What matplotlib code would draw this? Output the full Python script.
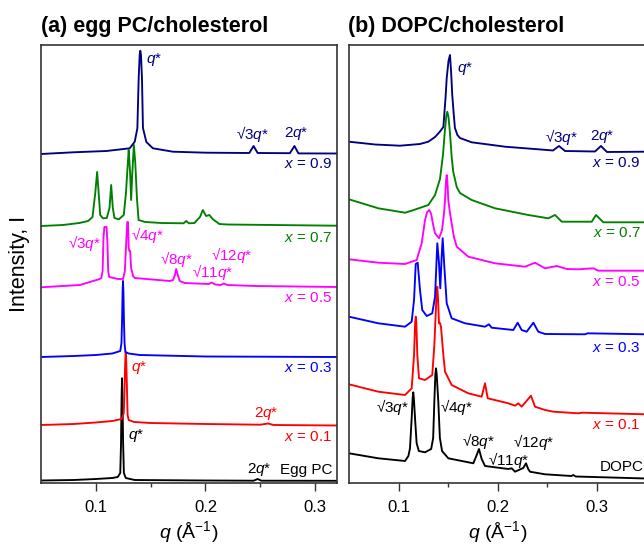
import numpy as np
import matplotlib
matplotlib.use("Agg")
import matplotlib.pyplot as plt

plt.rcParams['font.family'] = ['Liberation Sans', 'DejaVu Sans']
plt.rcParams['mathtext.fontset'] = 'custom'
plt.rcParams['mathtext.rm'] = 'Liberation Sans'
plt.rcParams['mathtext.it'] = 'Liberation Sans:italic'
plt.rcParams['mathtext.bf'] = 'Liberation Sans:bold'

# ---------------- (a) egg PC / cholesterol (intensity offset, arb. units) ----------------
a_q_egg = [0.05, 0.08, 0.10, 0.115, 0.120, 0.1223, 0.1230, 0.1235, 0.1239, 0.1243, 0.1249, 0.1256,
           0.1273, 0.1355, 0.20, 0.244, 0.2476, 0.251, 0.32]
a_I_egg = [2.5, 3, 4, 5, 6, 10, 40, 85, 104.7, 85, 40, 10, 5, 3, 2.5, 2.3, 4, 2.3, 2.2]

a_q_01 = [0.05, 0.08, 0.10, 0.115, 0.1236, 0.1255, 0.1262, 0.1268, 0.1273, 0.1278, 0.1284, 0.129,
          0.130, 0.135, 0.15, 0.20, 0.25, 0.2573, 0.262, 0.32]
a_I_01 = [58, 59, 60.5, 62, 64, 70, 95, 120, 131, 120, 95, 68, 63, 61, 60, 59, 58.3, 59.5, 58, 57.5]

a_q_03 = [0.05, 0.08, 0.10, 0.115, 0.1223, 0.1234, 0.1240, 0.1244, 0.1248, 0.1252, 0.1256, 0.1262,
          0.127, 0.13, 0.14, 0.20, 0.32]
a_I_03 = [126, 127, 128, 129.5, 132, 140, 165, 190, 202, 190, 165, 140, 131, 129.5, 128, 126.5, 126]

a_q_05 = [0.05, 0.0855, 0.1036, 0.1050, 0.1062, 0.1070, 0.1078, 0.1098, 0.1106, 0.1113, 0.1122,
          0.12, 0.1248, 0.1265, 0.1277, 0.1287, 0.1293, 0.1300, 0.1306, 0.1313, 0.1322, 0.1340,
          0.1355, 0.1673, 0.1705, 0.1722, 0.1733, 0.1748, 0.1766, 0.181, 0.203, 0.2057, 0.209,
          0.214, 0.2167, 0.220, 0.245, 0.32]
a_I_05 = [195.7, 198, 204, 205, 212, 245, 256, 256, 240, 212, 206,
          204, 204, 212, 240, 261, 261, 235, 232, 232, 215, 207,
          205, 202, 203, 208, 214, 208, 202, 200, 199, 200.5, 198.5,
          198, 199.5, 198, 197, 196]

a_q_07 = [0.05, 0.07, 0.085, 0.093, 0.097, 0.0995, 0.1012, 0.1026, 0.104, 0.1065, 0.110, 0.1125,
          0.1140, 0.1155, 0.117, 0.121, 0.1255, 0.1275, 0.1292, 0.1300, 0.1313, 0.1322, 0.1333,
          0.1347, 0.136, 0.1375, 0.139, 0.145, 0.16, 0.18, 0.1824, 0.185, 0.19, 0.195, 0.1976,
          0.2006, 0.2036, 0.2065, 0.2127, 0.22, 0.32]
a_I_07 = [257, 258, 260, 262, 266, 290, 311, 290, 268, 264.7, 265, 275,
          298, 275, 265, 263.7, 268, 290, 320, 333, 310, 283, 310,
          338, 320, 285, 263, 261, 260, 259.7, 262, 259.7, 260, 266, 273,
          267, 268, 264, 259, 258.5, 257.3]

a_q_09 = [0.05, 0.0794, 0.1097, 0.1309, 0.1355, 0.1379, 0.1391, 0.1400, 0.1406, 0.1412, 0.1421,
          0.143, 0.1461, 0.1521, 0.1703, 0.2006, 0.24, 0.2439, 0.2476, 0.277, 0.2812, 0.2848, 0.32]
a_I_09 = [329, 330.7, 332, 334.7, 341.3, 354.7, 405, 428, 432.3, 428, 405, 355, 341,
          334.7, 331.3, 330.3, 330, 337, 330, 329.8, 337, 329.6, 329.5]

# ---------------- (b) DOPC / cholesterol ----------------
b_q_dopc = [0.05, 0.0796, 0.1066, 0.1100, 0.1116, 0.1133, 0.1143, 0.1149, 0.1155, 0.1167, 0.1183,
            0.1205, 0.1268, 0.1330, 0.1350, 0.1362, 0.1372, 0.1379, 0.1386, 0.1402, 0.1418, 0.1440,
            0.1503, 0.1756, 0.1790, 0.1813, 0.1840, 0.1874, 0.2109, 0.2143, 0.2177, 0.2260, 0.2288,
            0.2310, 0.2328, 0.248, 0.2745, 0.2766, 0.279, 0.35]
b_I_dopc = [29.7, 24.7, 22, 27, 34.7, 64.7, 85, 90.7, 85, 64.7, 40,
            32, 30.7, 34, 45, 81.3, 108, 114.7, 108, 81.3, 45, 32,
            24.7, 19.7, 28, 34, 24, 17, 14, 14.7, 11.3, 15, 19.7,
            14, 11.3, 8.7, 7, 8, 6.5, 4.5]

b_q_01 = [0.05, 0.0796, 0.1066, 0.1133, 0.1157, 0.1168, 0.1174, 0.1180, 0.119, 0.1207, 0.1268,
          0.1341, 0.1362, 0.1385, 0.1392, 0.1399, 0.1409, 0.1419, 0.1429, 0.1453, 0.147, 0.1537,
          0.1705, 0.184, 0.1874, 0.1901, 0.2109, 0.2177, 0.221, 0.2244, 0.2338, 0.2379, 0.248,
          0.2564, 0.2816, 0.2857, 0.35]
b_I_01 = [98.7, 91.3, 88, 94.7, 128, 160, 166.3, 160, 128, 104.7, 103,
          108, 138, 190, 196.3, 185, 159.7, 160, 156.3, 128, 111.3, 98,
          89.7, 86.3, 99.7, 84.7, 79.7, 77.3, 79.7, 76.3, 87.3, 76.3, 73,
          71.3, 69.7, 70.3, 68.7]

b_q_03 = [0.05, 0.0796, 0.1066, 0.1133, 0.1157, 0.1174, 0.1194, 0.1217, 0.124, 0.1285, 0.1341,
          0.1369, 0.1392, 0.1409, 0.1422, 0.1436, 0.1446, 0.1463, 0.1487, 0.1537, 0.1672, 0.1874,
          0.1914, 0.1941, 0.216, 0.2204, 0.2244, 0.2295, 0.2362, 0.2412, 0.248, 0.2884, 0.2911, 0.35]
b_I_03 = [166.3, 159.7, 156.3, 161.3, 183, 219, 220.3, 193, 173, 167, 169.7,
          186.3, 239.7, 220, 194.7, 226.3, 244.7, 216.3, 179.7, 164.7, 159.7, 156.3,
          158.7, 155.3, 153, 160.3, 153, 151.3, 160.3, 151.3, 149, 148.7, 149.7, 148.7]

b_q_05 = [0.05, 0.0796, 0.1066, 0.1184, 0.1234, 0.1268, 0.1290, 0.1311, 0.1330, 0.1350, 0.1369,
          0.1409, 0.1440, 0.1460, 0.147, 0.1480, 0.1487, 0.1494, 0.1503, 0.152, 0.1537, 0.1560,
          0.1588, 0.1705, 0.1975, 0.2278, 0.2379, 0.248, 0.2598, 0.2700, 0.2816, 0.2968, 0.3018,
          0.35]
b_I_05 = [223.7, 220.3, 219, 223, 239.7, 263, 271, 273, 269, 258, 249.7,
          244.7, 253, 270, 283, 302, 308, 302, 283, 270, 259.7, 246,
          236.3, 226.3, 219.7, 216.3, 220.3, 214.7, 217, 214, 213.7, 214.7, 212.3,
          212.3]

b_q_07 = [0.05, 0.0796, 0.1066, 0.1133, 0.1301, 0.1369, 0.1419, 0.1449, 0.147, 0.1483, 0.1493,
          0.1505, 0.152, 0.1538, 0.1553, 0.1588, 0.1621, 0.1739, 0.1975, 0.2311, 0.2513, 0.2581,
          0.2649, 0.2952, 0.2995, 0.3069, 0.35]
b_I_07 = [283.7, 274.7, 270.3, 272.3, 278, 288, 304, 328, 354, 367, 371.3,
          366, 350, 325, 311.3, 296, 290, 283, 274.7, 268, 264.7, 268,
          261.3, 261.3, 268, 260.7, 260.7]

b_q_09 = [0.05, 0.0763, 0.1015, 0.1217, 0.1301, 0.1369, 0.1415, 0.1453, 0.1475, 0.1487, 0.1505,
          0.152, 0.1532, 0.1543, 0.1557, 0.157, 0.1595, 0.1621, 0.1739, 0.2076, 0.2412, 0.2561,
          0.2621, 0.2682, 0.2985, 0.3045, 0.3106, 0.35]
b_I_09 = [341.3, 338.5, 337.3, 339, 341.3, 346, 351, 356, 385, 405, 422,
          428, 410, 388, 370, 355, 348, 345, 340.7, 336.3, 333.7, 332.5,
          337, 332, 331.5, 337, 331, 331.3]

navy = '#000080'
green = '#008000'
magenta = '#FF00FF'
blue = '#0000FF'
red = '#FF0000'
black = '#000000'

fig = plt.figure(figsize=(6.44, 5.49), dpi=100)
axa = fig.add_axes([41/644, 1-483/549, 296/644, 438/549])
axb = fig.add_axes([349/644, 1-483/549, 297/644, 438/549])

lw = 1.35
for q, I, c in [(a_q_egg, a_I_egg, black), (a_q_01, a_I_01, red), (a_q_03, a_I_03, blue),
                (a_q_05, a_I_05, magenta), (a_q_07, a_I_07, green), (a_q_09, a_I_09, navy)]:
    axa.plot(q, I, color=c, lw=lw)
for q, I, c in [(b_q_dopc, b_I_dopc, black), (b_q_01, b_I_01, red), (b_q_03, b_I_03, blue),
                (b_q_05, b_I_05, magenta), (b_q_07, b_I_07, green), (b_q_09, b_I_09, navy)]:
    axb.plot(q, I, color=c, lw=lw)

axa.set_xlim(0.05, 0.32)
axb.set_xlim(0.05, 0.35)
for ax in (axa, axb):
    ax.set_ylim(0, 438)
    ax.set_yticks([])
    ax.set_xticks([0.1, 0.2, 0.3])
    ax.set_xticks([0.15, 0.25], minor=True)
    ax.tick_params(axis='x', which='major', direction='out', length=5.5, width=1, labelsize=12,
                   color='#333333', pad=7)
    ax.tick_params(axis='x', which='minor', direction='out', length=3, width=1, color='#333333')
    for s in ax.spines.values():
        s.set_color('#333333')
        s.set_linewidth(1.2)
    ax.set_xlabel(r'$q$ (Å$^{-1}$)', fontsize=14, labelpad=3)

axa.set_ylabel('Intensity, I', fontsize=15.5, labelpad=8)

fs = 11
def lab(ax, x, y, s, c, ha='center'):
    ax.text(x, y, s, color=c, fontsize=fs, ha=ha, va='center')

# labels panel (a)
lab(axa, 0.1455, 423, r'$q$*', navy, 'left')
lab(axa, 0.2427, 349, r'√3$q$*', navy)
lab(axa, 0.2827, 349, r'2$q$*', navy)
lab(axa, 0.3155, 319, r'$x$ = 0.9', navy, 'right')
lab(axa, 0.3155, 245, r'$x$ = 0.7', green, 'right')
lab(axa, 0.090, 240, r'√3$q$*', magenta)
lab(axa, 0.1320, 248, r'√4$q$*', magenta, 'left')
lab(axa, 0.1736, 224, r'√8$q$*', magenta)
lab(axa, 0.2236, 228, r'√12$q$*', magenta)
lab(axa, 0.2064, 211, r'√11$q$*', magenta)
lab(axa, 0.3155, 185, r'$x$ = 0.5', magenta, 'right')
lab(axa, 0.3155, 115, r'$x$ = 0.3', blue, 'right')
lab(axa, 0.1318, 115, r'$q$*', red, 'left')
lab(axa, 0.2555, 70, r'2$q$*', red)
lab(axa, 0.3155, 46, r'$x$ = 0.1', red, 'right')
lab(axa, 0.1291, 48, r'$q$*', black, 'left')
lab(axa, 0.2491, 13, r'2$q$*', black)
lab(axa, 0.268, 13, 'Egg PC', black, 'left')

# labels panel (b)
lab(axb, 0.1588, 414.7, r'$q$*', navy, 'left')
lab(axb, 0.2648, 346.3, r'√3$q$*', navy)
lab(axb, 0.3063, 346.3, r'2$q$*', navy)
lab(axb, 0.3445, 319.7, r'$x$ = 0.9', navy, 'right')
lab(axb, 0.3445, 249.7, r'$x$ = 0.7', green, 'right')
lab(axb, 0.3445, 201.3, r'$x$ = 0.5', magenta, 'right')
lab(axb, 0.3445, 134.7, r'$x$ = 0.3', blue, 'right')
lab(axb, 0.3445, 58, r'$x$ = 0.1', red, 'right')
lab(axb, 0.0937, 76.3, r'√3$q$*', black)
lab(axb, 0.1415, 76.3, r'√4$q$*', black, 'left')
lab(axb, 0.1806, 42, r'√8$q$*', black)
lab(axb, 0.2362, 41.3, r'√12$q$*', black)
lab(axb, 0.2109, 23, r'√11$q$*', black)
lab(axb, 0.3030, 16.3, 'DOPC', black, 'left')

fig.text(41/644, 1-32/549, '(a) egg PC/cholesterol', fontsize=15.5, fontweight='bold', va='baseline')
fig.text(348/644, 1-32/549, '(b) DOPC/cholesterol', fontsize=15.5, fontweight='bold', va='baseline')

fig.savefig('out.png', dpi=100)
